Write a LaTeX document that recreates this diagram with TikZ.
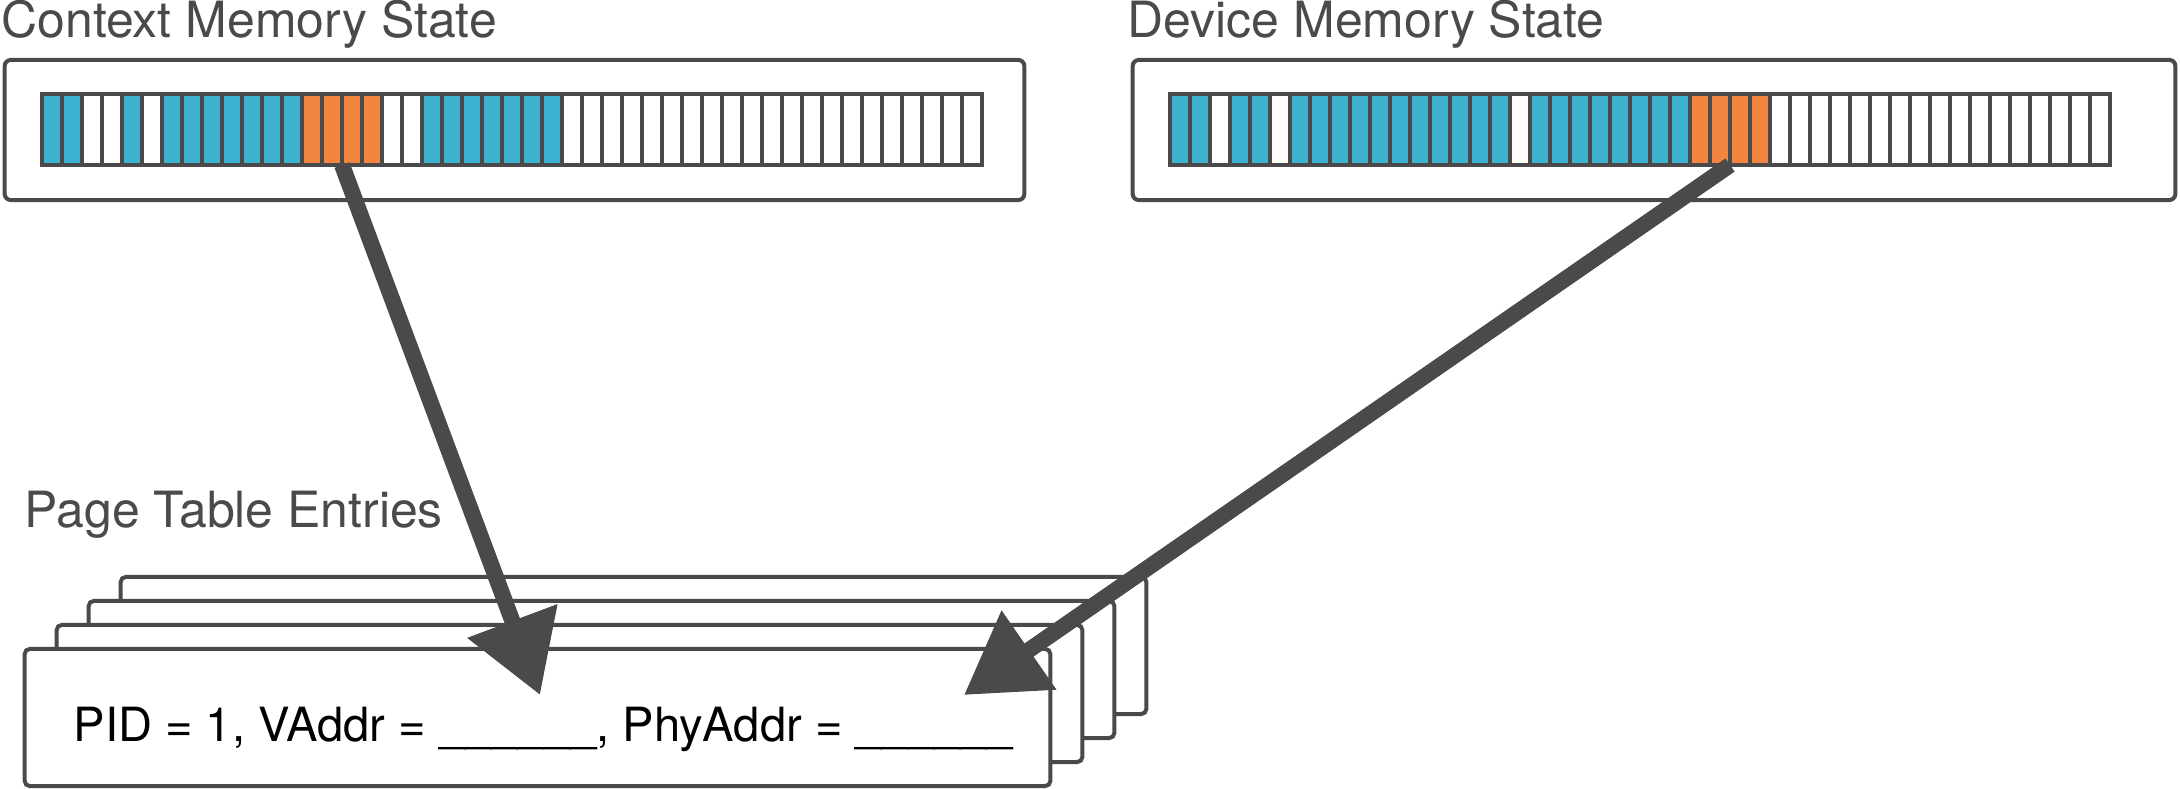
\documentclass[tikz,border=0pt]{standalone}
\usepackage{fontspec}
\setmainfont{TeX Gyre Heros}
\usepackage{xcolor}
\usetikzlibrary{arrows.meta}
\definecolor{memgray}{RGB}{74,74,74}
\definecolor{used}{RGB}{61,178,209}
\definecolor{mapped}{RGB}{242,134,64}
\definecolor{free}{RGB}{255,255,255}

\begin{document}
\begin{tikzpicture}[x=0.01cm, y=-0.01cm]
        \tikzstyle{title}=[anchor=base west,inner sep=0pt,text=memgray,font=\fontsize{14.2}{16}\selectfont]
        \tikzstyle{frame}=[draw=memgray,line width=0.04cm,rounded corners=0.06cm,minimum height=1.4cm,inner sep=0pt]
        \tikzstyle{cell}=[draw=memgray,line width=0.04cm,minimum width=0.2cm,minimum height=0.71cm,inner sep=0pt,outer sep=0pt]
        \tikzstyle{entry}=[draw=memgray,fill=white,line width=0.04cm,rounded corners=0.05cm,minimum width=10.25cm,minimum height=1.37cm,inner sep=0pt]
        \tikzstyle{pointer}=[draw=memgray,line width=0.16cm,-{Triangle[length=0.79cm,width=0.92cm]}]
        \useasboundingbox (0,0) rectangle (2180,788);

        % memory states
        \draw node at (1,38) [title] (ctxtitle) {Context Memory State};
        \draw node at (1127,38) [title] (devtitle) {Device Memory State};
        \draw node at (514.5,130) [frame,minimum width=10.19cm] (ctxframe) {};
        \draw node at (1654,130) [frame,minimum width=10.42cm] (devframe) {};

        \foreach \c [count=\i] in {used,used,free,free,used,free,used,used,used,used,used,used,used,
            mapped,mapped,mapped,mapped,free,free,used,used,used,used,used,used,used}
            \draw node at ({32+20*\i},129.5) [cell,fill=\c] (ctx-\i) {};
        \foreach \i in {27,...,47}
            \draw node at ({32+20*\i},129.5) [cell,fill=free] (ctx-\i) {};

        \foreach \c [count=\i] in {used,used,free,used,used,free,used,used,used,used,used,used,used,used,used,used,used,
            free,used,used,used,used,used,used,used,used,mapped,mapped,mapped,mapped}
            \draw node at ({1160+20*\i},129.5) [cell,fill=\c] (dev-\i) {};
        \foreach \i in {31,...,47}
            \draw node at ({1160+20*\i},129.5) [cell,fill=free] (dev-\i) {};

        % page table entries
        \draw node at (24,527) [title] (ptetitle) {Page Table Entries};
        \foreach \k in {3,2,1}
            \draw node at ({537.5+32*\k},{717.5-24*\k}) [entry] (pte-\k) {};
        \draw node at (537.5,717.5) [entry] (pte-0) {};
        \draw node at (73,741) [anchor=base west,inner sep=0pt,font=\fontsize{13.4}{16}\selectfont] (ptetext)
            {PID = 1, VAddr = \_\_\_\_\_\_, PhyAddr = \_\_\_\_\_\_};

        \coordinate (vaddr) at (540,695);
        \coordinate (phyaddr) at (964,695);
        \draw [pointer] (ctx-16.south west) to (vaddr);
        \draw [pointer] (dev-29.south west) to (phyaddr);
    \end{tikzpicture}
\end{document}
